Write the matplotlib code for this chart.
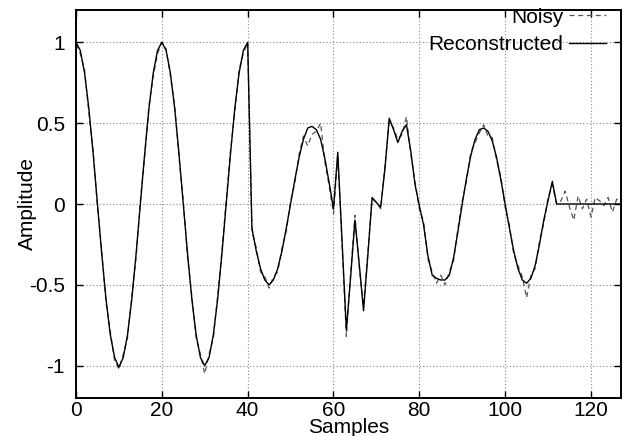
import matplotlib
matplotlib.use("Agg")
import matplotlib.pyplot as plt
import numpy as np

plt.rcParams['font.family'] = ['Liberation Sans', 'DejaVu Sans']

samples = list(range(128))

reconstructed = [
    1.00, 0.95, 0.81, 0.59, 0.31, 0.00, -0.31, -0.59, -0.81, -0.95,
    -1.01, -0.95, -0.81, -0.59, -0.31, 0.00, 0.31, 0.59, 0.81, 0.95,
    1.00, 0.95, 0.81, 0.59, 0.31, 0.00, -0.31, -0.59, -0.81, -0.95,
    -1.00, -0.95, -0.81, -0.59, -0.31, 0.00, 0.31, 0.59, 0.81, 0.95,
    1.00, -0.15, -0.29, -0.40, -0.47, -0.50, -0.47, -0.40, -0.29, -0.15,
    0.00, 0.15, 0.29, 0.40, 0.47, 0.48, 0.46, 0.40, 0.28, 0.13,
    -0.03, 0.32, -0.23, -0.78, -0.45, -0.10, -0.37, -0.66, -0.32, 0.04,
    0.01, -0.02, 0.22, 0.53, 0.46, 0.38, 0.45, 0.49, 0.33, 0.12,
    -0.01, -0.13, -0.32, -0.44, -0.46, -0.47, -0.47, -0.44, -0.33, -0.17,
    0.00, 0.16, 0.30, 0.40, 0.46, 0.47, 0.45, 0.39, 0.29, 0.15,
    0.00, -0.15, -0.29, -0.40, -0.47, -0.49, -0.46, -0.38, -0.25, -0.10,
    0.02, 0.14, 0.00, 0.00, 0.00, 0.00, 0.00, 0.00, 0.00, 0.00,
    0.00, 0.00, 0.00, 0.00, 0.00, 0.00, 0.00, 0.00,
]

noisy = [
    0.99, 0.93, 0.83, 0.56, 0.33, -0.02, -0.29, -0.61, -0.79, -0.97,
    -1.02, -0.93, -0.83, -0.57, -0.33, 0.02, 0.29, 0.61, 0.79, 0.93,
    1.00, 0.96, 0.79, 0.61, 0.29, 0.02, -0.33, -0.57, -0.83, -0.93,
    -1.05, -0.93, -0.83, -0.57, -0.29, 0.02, 0.33, 0.57, 0.83, 0.93,
    1.00, -0.17, -0.27, -0.42, -0.45, -0.52, -0.45, -0.42, -0.27, -0.17,
    0.02, 0.13, 0.31, 0.42, 0.36, 0.43, 0.45, 0.50, 0.26, 0.11,
    -0.06, 0.30, -0.25, -0.82, -0.43, -0.07, -0.39, -0.63, -0.30, 0.03,
    0.01, -0.03, 0.24, 0.51, 0.47, 0.40, 0.43, 0.54, 0.31, 0.14,
    -0.03, -0.11, -0.34, -0.42, -0.49, -0.44, -0.50, -0.42, -0.35, -0.15,
    0.02, 0.14, 0.32, 0.38, 0.44, 0.49, 0.42, 0.41, 0.27, 0.17,
    -0.02, -0.13, -0.31, -0.38, -0.45, -0.58, -0.44, -0.40, -0.23, -0.12,
    0.04, 0.12, 0.00, 0.02, 0.08, -0.02, -0.10, 0.05, -0.03, 0.03,
    -0.08, 0.04, 0.02, -0.01, 0.04, -0.05, 0.03, 0.01,
]

x_ticks = [0, 20, 40, 60, 80, 100, 120]
y_ticks = [-1, -0.5, 0, 0.5, 1]
y_tick_labels = ["-1", "-0.5", "0", "0.5", "1"]

fig = plt.figure(figsize=(6.28, 4.36), dpi=100)
ax = fig.add_axes([76/628, 1-398/436, (621-76)/628, (398-10)/436])

ax.plot(samples, noisy, color="#555555", lw=0.9, ls=(0, (4, 3)), label="Noisy")
ax.plot(samples, reconstructed, color="black", lw=1.0, label="Reconstructed")

ax.set_xlim(0, 127)
ax.set_ylim(-1.2, 1.2)
ax.set_xticks(x_ticks)
ax.set_xticklabels([str(t) for t in x_ticks])
ax.set_yticks(y_ticks)
ax.set_yticklabels(y_tick_labels)

ax.grid(True, color="#888888", ls=(0, (1, 2)), lw=0.8)
ax.tick_params(direction="in", length=5, width=1, top=True, right=True,
               labelsize=15)
ax.tick_params(axis='x', pad=2)
ax.tick_params(axis='y', pad=8)
for s in ax.spines.values():
    s.set_linewidth(1.4)

ax.set_xlabel("Samples", fontsize=15, labelpad=-1)
ax.set_ylabel("Amplitude", fontsize=15, labelpad=-6)

leg = ax.legend(loc="upper right", frameon=False, markerfirst=False,
                fontsize=15, handlelength=1.8, handletextpad=0.25,
                labelspacing=0.42, borderaxespad=0.0, borderpad=0.0,
                bbox_to_anchor=(1 - 15/545, 1.006))

fig.savefig("out.png", dpi=100)
